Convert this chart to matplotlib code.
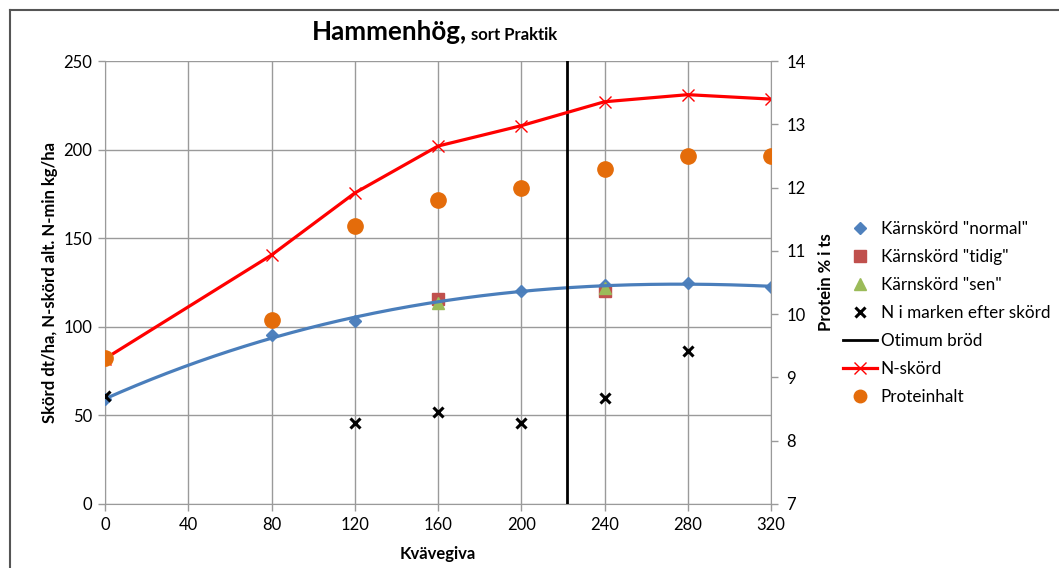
import numpy as np
import matplotlib
matplotlib.use("Agg")
import matplotlib.pyplot as plt
from matplotlib.lines import Line2D

plt.rcParams['font.family'] = ['Lato', 'DejaVu Sans']

# Kvävegiva (kg N/ha)
n_giva = [0, 80, 120, 160, 200, 240, 280, 320]

# Kärnskörd, normal skördetid (dt/ha)
karn_normal = [59, 95.5, 103.5, 114, 120, 123.5, 124.5, 122.5]
# Kärnskörd vid tidig / sen skörd
tidig_x = [160, 240]
karn_tidig = [115.5, 120]
sen_x = [160, 240]
karn_sen = [113.5, 122]

# N i marken efter skörd (kg/ha)
nmin_x = [0, 120, 160, 200, 240, 280]
nmin = [61, 45.5, 52, 45.5, 60, 86.5]

# N-skörd (kg/ha)
n_skord = [82, 140.5, 175.5, 202, 213.5, 227, 231, 228.5]

# Proteinhalt (% i ts)
protein = [9.3, 9.9, 11.4, 11.8, 12.0, 12.3, 12.5, 12.5]

# Optimal N-giva för brödvete
optimum_brod = 222

W, H = 1059, 568
fig = plt.figure(figsize=(W / 100, H / 100), dpi=100)

left, right, top, bottom = 105, 771, 61, 504
ax = fig.add_axes([left / W, 1 - bottom / H, (right - left) / W, (bottom - top) / H])
ax2 = ax.twinx()

grid_c = '#9a9a9a'
ax.set_xlim(0, 320)
ax.set_ylim(0, 250)
ax2.set_ylim(7, 14)
ax.set_xticks(np.arange(0, 321, 40))
ax.set_yticks(np.arange(0, 251, 50))
ax2.set_yticks(np.arange(7, 15, 1))
ax.grid(True, color=grid_c, lw=1.0)
ax.set_axisbelow(True)

for a in (ax, ax2):
    for s in a.spines.values():
        s.set_visible(False)
ax.spines['left'].set_visible(True)
ax.spines['left'].set_color(grid_c)
ax.spines['bottom'].set_visible(True)
ax.spines['bottom'].set_color(grid_c)
ax2.spines['right'].set_visible(True)
ax2.spines['right'].set_color(grid_c)

ax.tick_params(axis='both', colors=grid_c, labelcolor='black', labelsize=12,
               length=5, width=1.0, pad=4)
ax2.tick_params(axis='y', colors=grid_c, labelcolor='black', labelsize=12,
                length=5, width=1.0, pad=6)

blue = '#4a7ebb'
# Kärnskörd, normal: markers + trendline
ax.plot(n_giva, karn_normal, ls='none', marker='D', ms=6.5, color='#4f81bd',
        zorder=3)
coef = np.polyfit(n_giva, karn_normal, 3)
xs = np.linspace(0, 320, 300)
ax.plot(xs, np.polyval(coef, xs), color=blue, lw=2.3, zorder=4)

ax.plot(tidig_x, karn_tidig, ls='none', marker='s', ms=8, color='#c0504d', zorder=3)
ax.plot(sen_x, karn_sen, ls='none', marker='^', ms=8, color='#9bbb59', zorder=3)
ax.plot(nmin_x, nmin, ls='none', marker='x', ms=7, mew=2.2, color='black', zorder=5)

ax.axvline(optimum_brod, ymin=0, ymax=1, color='black', lw=2.0, zorder=5)

ax.plot(n_giva, n_skord, color='#ff0000', lw=2.3, marker='x', ms=9, mew=1.0,
        zorder=6)

ax2.plot(n_giva, protein, ls='none', marker='o', ms=11, color='#e46c0a',
         zorder=7)
# orange markers drawn above the primary axis content
ax2.set_zorder(ax.get_zorder() + 1)
ax2.patch.set_visible(False)

ax.set_xlabel('Kvävegiva', fontsize=12, fontweight='bold', labelpad=10)
ax.set_ylabel('Skörd dt/ha, N-skörd alt. N-min kg/ha', fontsize=12,
              fontweight='bold', labelpad=4)
ax2.set_ylabel('Protein % i ts', fontsize=12, fontweight='bold', labelpad=9)

fig.text(312 / W, 1 - 40 / H, 'Hammenhög,', fontsize=18.7, fontweight='bold',
         ha='left', va='baseline')
fig.text(471 / W, 1 - 40 / H, 'sort Praktik', fontsize=12, fontweight='bold',
         ha='left', va='baseline')

handles = [
    Line2D([], [], ls='none', marker='D', ms=6.5, color='#4f81bd'),
    Line2D([], [], ls='none', marker='s', ms=8, color='#c0504d'),
    Line2D([], [], ls='none', marker='^', ms=8, color='#9bbb59'),
    Line2D([], [], ls='none', marker='x', ms=7, mew=2.2, color='black'),
    Line2D([], [], color='black', lw=2.0),
    Line2D([], [], color='#ff0000', lw=2.3, marker='x', ms=9, mew=1.0),
    Line2D([], [], ls='none', marker='o', ms=9, color='#e46c0a'),
]
labels = ['Kärnskörd "normal"', 'Kärnskörd "tidig"', 'Kärnskörd "sen"',
          'N i marken efter skörd', 'Otimum bröd', 'N-skörd', 'Proteinhalt']
fig.legend(handles, labels, loc='upper left',
           bbox_to_anchor=(843 / W, 1 - 221 / H), frameon=False, fontsize=12.3,
           handlelength=2.0, handletextpad=0.2, labelspacing=0.7,
           borderpad=0, borderaxespad=0)

# outer chart frame (top and left edges)
fig.add_artist(Line2D([9.5 / W, 9.5 / W], [0, 1 - 9.5 / H], color='#555555',
                      lw=1.5, transform=fig.transFigure))
fig.add_artist(Line2D([9.5 / W, 1], [1 - 9.5 / H, 1 - 9.5 / H], color='#555555',
                      lw=1.5, transform=fig.transFigure))

fig.savefig('out.png', dpi=100)
